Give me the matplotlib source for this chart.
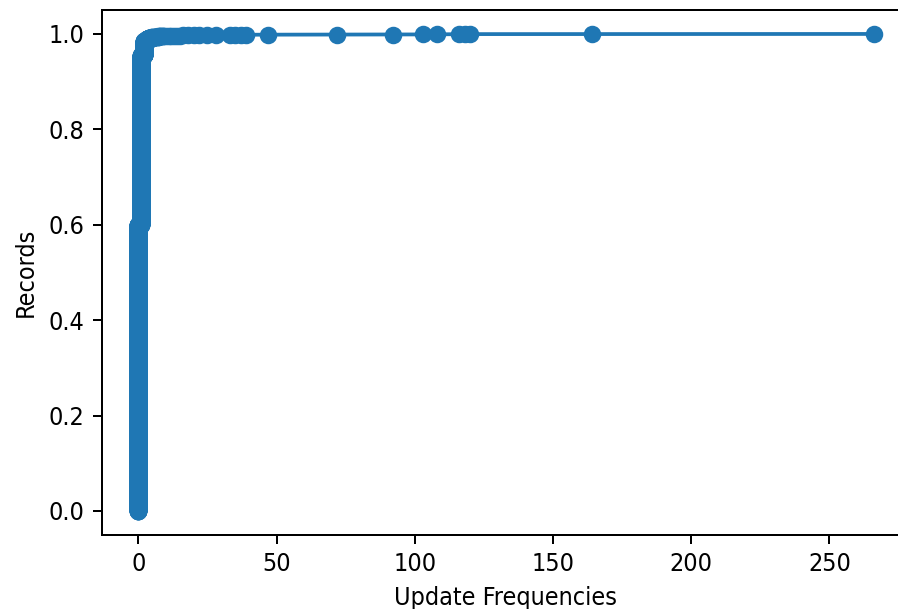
import numpy as np
import matplotlib
matplotlib.use("Agg")
import matplotlib.pyplot as plt

plt.rcParams['font.family'] = ['DejaVu Sans']
plt.rcParams['font.stretch'] = 'condensed'

# Distinct update-frequency values and how many records have each value
freq_values = [0, 1, 2, 3, 4, 5, 6, 7, 8, 9, 10, 11, 12, 13, 14, 15, 16, 18, 20,
               22, 25, 28, 33, 35, 37, 39, 47, 72, 92, 103, 108, 116, 118, 120,
               164, 266]
record_counts = [3600, 2130, 180, 30, 10, 8, 6, 4, 3, 3, 1, 1, 1, 1, 1, 1, 1, 1, 1,
                 1, 1, 1, 1, 1, 1, 1, 1, 1, 1, 1, 1, 1, 1, 1,
                 1, 1]

x = np.repeat(freq_values, record_counts)
n = len(x)
y = np.arange(n) / n

dpi = 180
fig = plt.figure(figsize=(898 / dpi, 609 / dpi), dpi=dpi)
ax = fig.add_axes([101.5 / 898, 74.2 / 609, 809 / 898, 524.7 / 609])
ax.plot(x, y, marker='o', color='#1f77b4')
ax.set_xlabel('Update Frequencies')
ax.set_ylabel('Records')
ax.set_xticks([0, 50, 100, 150, 200, 250])
ax.set_yticks([0.0, 0.2, 0.4, 0.6, 0.8, 1.0])
ax.spines['right'].set_visible(False)  # lies beyond the cropped image edge in the reference
fig.savefig('out.png', dpi=dpi)
